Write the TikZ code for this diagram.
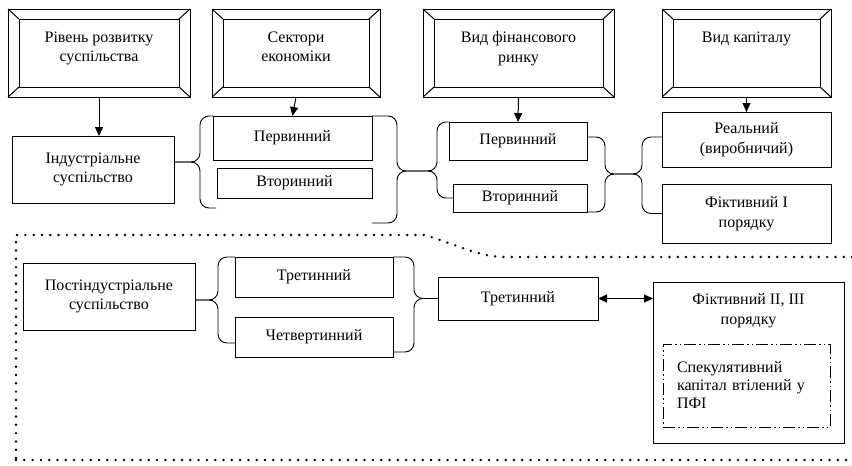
\documentclass[tikz,border=0pt]{standalone}
\usepackage{fontspec}
\setmainfont{Liberation Serif}
\newfontfamily\tnr{Liberation Serif}
\usetikzlibrary{arrows.meta, positioning}

\begin{document}
\begin{tikzpicture}[x=1pt, y=-1pt,
    box/.style={rectangle, draw, line width=0.9pt, align=center, inner sep=0pt, outer sep=0pt, font=\tnr\fontsize{16}{19.5}\selectfont},
    frame/.style={rectangle, draw, line width=1pt, minimum height=88pt, inner sep=0pt, outer sep=0pt},
    framein/.style={frame, minimum height=68pt},
    lbl/.style={align=center, inner sep=0pt, font=\tnr\fontsize{16}{19.5}\selectfont},
    arrow/.style={-{Triangle[length=9pt, width=8pt]}, line width=1pt},
    dblarrow/.style={{Triangle[length=9pt, width=8pt]}-{Triangle[length=9pt, width=8pt]}, line width=1pt},
    brc/.style={line width=0.9pt, rounded corners=9pt},
    dotline/.style={line width=2.7pt, line cap=round, dash pattern=on 0pt off 8.3pt}
]
\useasboundingbox (0,0) rectangle (852,466);

% criteria (bevelled frames)
\node[frame, minimum width=182pt] (lvl) at (99,53) {};
\node[framein, minimum width=160pt] (lvli) at (99,53) {};
\node[frame, minimum width=168pt] (sect) at (296,53) {};
\node[framein, minimum width=146pt] (secti) at (296,53) {};
\node[frame, minimum width=191pt] (mkt) at (518.5,53) {};
\node[framein, minimum width=169pt] (mkti) at (518.5,53) {};
\node[frame, minimum width=169pt] (cap) at (746.5,53) {};
\node[framein, minimum width=147pt] (capi) at (746.5,53) {};
\foreach \fr in {lvl,sect,mkt,cap}
  \foreach \cr in {north west,north east,south west,south east}
    \draw[line width=1pt] (\fr.\cr) -- (\fr i.\cr);

\node[lbl, below=12.5pt of lvli.north] (lvlt) {Рівень розвитку\\суспільства};
\node[lbl, below=12.5pt of secti.north] (sectt) {Сектори\\економіки};
\node[lbl, below=12.5pt of mkti.north] (mktt) {Вид фінансового\\ринку};
\node[lbl, below=12.5pt of capi.north] (capt) {Вид капіталу};

% upper level
\node[box, minimum width=162pt, minimum height=67pt] (ind) at (93,169.5) {Індустріальне\\суспільство};
\node[box, minimum width=159pt, minimum height=44pt] (sprim) at (292.5,138) {Первинний};
\node[box, minimum width=155pt, minimum height=30pt] (ssec) at (294.5,183) {Вторинний};
\node[box, minimum width=138pt, minimum height=38pt] (mprim) at (518,141) {Первинний};
\node[box, minimum width=134pt, minimum height=28pt] (msec) at (520,198) {Вторинний};
\node[box, minimum width=169pt, minimum height=55pt] (creal) at (746.5,139.5) {Реальний\\(виробничий)};
\node[box, minimum width=169pt, minimum height=59pt] (cfict) at (746.5,213.5) {Фіктивний I\\порядку};

% lower level
\node[box, minimum width=172pt, minimum height=67pt] (post) at (109,296.5) {Постіндустріальне\\суспільство};
\node[box, minimum width=158pt, minimum height=40pt] (sthird) at (314,277) {Третинний};
\node[box, minimum width=158pt, minimum height=40pt] (squat) at (314,337) {Четвертинний};
\node[box, minimum width=160pt, minimum height=43pt] (mthird) at (518,298.5) {Третинний};
\node[box, minimum width=191pt, minimum height=161pt] (cfict2) at (748.5,362.5) {};
\node[lbl, below=11.5pt of cfict2.north] (cfict2t) {Фіктивний II, III\\порядку};
\node[box, dash pattern=on 12pt off 3pt on 1.5pt off 3pt on 1.5pt off 3pt, minimum width=167pt, minimum height=83pt,
      text width=139pt, align=left, font=\tnr\fontsize{16}{18}\selectfont] (spec) at (746.5,385.5) {Спекулятивний\\капітал втілений у\\ПФІ};

% arrows
\draw[arrow] (lvl.south) -- (lvl.south |- ind.north);
\draw[arrow] (sect.south) -- (sprim.north);
\draw[arrow] (mkt.south) -- (mprim.north);
\draw[arrow] (cap.south) -- (creal.north);
\draw[dblarrow] (mthird.east) -- (mthird.east -| cfict2.west);

% braces
\draw[brc] ([yshift=7.5pt]ind.east) -| (200,116) -- (sprim.north west);
\draw[brc] ([yshift=7.5pt]ind.east) -| (200,208) -- (216,208);
\draw[brc] (sprim.north east) -| (397,171) -| (437,122) -- (mprim.north west);
\draw[brc] ([yshift=-25pt]ssec.south east) -| (397,171) -| (437,198) -- (msec.west);
\draw[brc] ([yshift=4pt]mprim.east) -| (605,174) -| (642,137) -- ([yshift=2.5pt]creal.west);
\draw[brc] (msec.south east) -| (605,174) -| (642,213.5) -- (cfict.west);
\draw[brc] ([yshift=-3.5pt]post.east) -| (218,257) -- (sthird.north west);
\draw[brc] ([yshift=-3.5pt]post.east) -| (218,343) -- (squat.west |- 0,343);
\draw[brc] (sthird.north east) -| (414,298.5) -- (mthird.west);
\draw[brc] ([yshift=5pt]squat.south east) -| (414,298.5) -- (mthird.west);

% dotted border of the post-industrial part
\draw[dotline] (852,257) -- (505,257) .. controls (480,257) and (460,246) .. (425,235) -- (16,235) -- (16,466);
\draw[dotline] (16,460) -- (852,460);

\end{tikzpicture}
\end{document}
